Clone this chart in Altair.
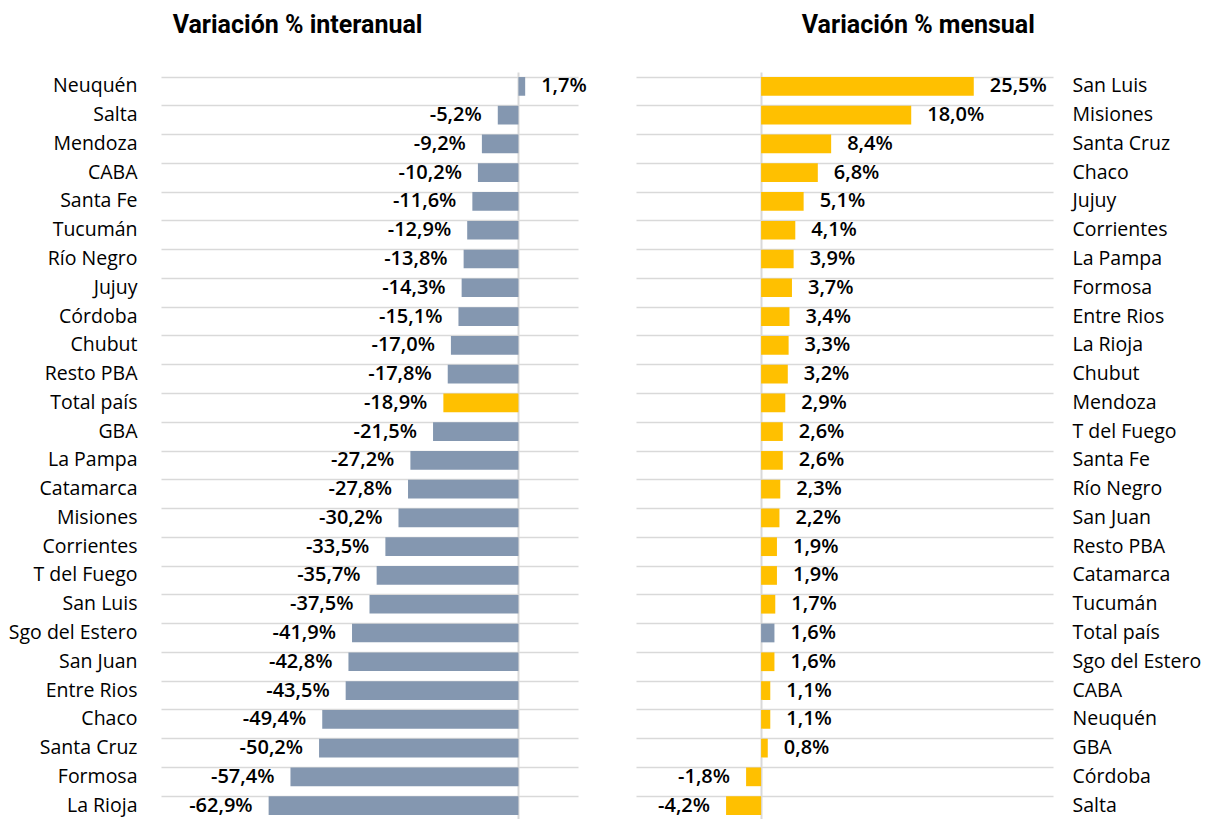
import altair as alt
import pandas as pd

inter_regions = ["Neuquén", "Salta", "Mendoza", "CABA", "Santa Fe", "Tucumán", "Río Negro",
                 "Jujuy", "Córdoba", "Chubut", "Resto PBA", "Total país", "GBA", "La Pampa",
                 "Catamarca", "Misiones", "Corrientes", "T del Fuego", "San Luis",
                 "Sgo del Estero", "San Juan", "Entre Rios", "Chaco", "Santa Cruz",
                 "Formosa", "La Rioja"]
inter_values = [1.7, -5.2, -9.2, -10.2, -11.6, -12.9, -13.8, -14.3, -15.1, -17.0, -17.8,
                -18.9, -21.5, -27.2, -27.8, -30.2, -33.5, -35.7, -37.5, -41.9, -42.8,
                -43.5, -49.4, -50.2, -57.4, -62.9]

mens_regions = ["San Luis", "Misiones", "Santa Cruz", "Chaco", "Jujuy", "Corrientes",
                "La Pampa", "Formosa", "Entre Rios", "La Rioja", "Chubut", "Mendoza",
                "T del Fuego", "Santa Fe", "Río Negro", "San Juan", "Resto PBA",
                "Catamarca", "Tucumán", "Total país", "Sgo del Estero", "CABA",
                "Neuquén", "GBA", "Córdoba", "Salta"]
mens_values = [25.5, 18.0, 8.4, 6.8, 5.1, 4.1, 3.9, 3.7, 3.4, 3.3, 3.2, 2.9, 2.6, 2.6,
               2.3, 2.2, 1.9, 1.9, 1.7, 1.6, 1.6, 1.1, 1.1, 0.8, -1.8, -4.2]

BLUE = "#8497B0"
YELLOW = "#FFC000"
GRID = "#D9D9D9"
FONT = "Open Sans"


def fmt(v):
    return f"{v:.1f}".replace(".", ",") + "%"


def panel(regions, values, domain, title, highlight, other, y_orient, label_pad):
    df = pd.DataFrame({"region": regions, "value": values,
                       "label": [fmt(v) for v in values]})
    y = alt.Y("region:N", sort=regions,
              scale=alt.Scale(paddingInner=0.35, paddingOuter=0.175),
              axis=alt.Axis(title=None, orient=y_orient, ticks=False, domain=False,
                            labelPadding=label_pad, labelFontSize=19.5, labelFont=FONT,
                            labelColor="#000000", grid=True, bandPosition=0,
                            gridColor=GRID, gridWidth=1.5))
    x = alt.X("value:Q", scale=alt.Scale(domain=domain, nice=False, zero=False),
              axis=alt.Axis(title=None, values=[0], labels=False, ticks=False,
                            grid=True, gridColor=GRID, gridWidth=2,
                            domain=True, domainColor=GRID, domainWidth=1.5))
    base = alt.Chart(df)
    bars = base.mark_bar().encode(
        x=x, y=y,
        color=alt.condition(alt.datum.region == "Total país",
                            alt.value(highlight), alt.value(other)),
    )
    pos = base.transform_filter(alt.datum.value >= 0).mark_text(
        align="left", dx=16, fontSize=20, fontWeight=600, font=FONT, color="#000000"
    ).encode(x="value:Q", y=alt.Y("region:N", sort=regions), text="label:N")
    neg = base.transform_filter(alt.datum.value < 0).mark_text(
        align="right", dx=-16, fontSize=20, fontWeight=600, font=FONT, color="#000000"
    ).encode(x="value:Q", y=alt.Y("region:N", sort=regions), text="label:N")
    return alt.layer(bars, pos, neg).properties(
        width=417, height=748,
        title=alt.TitleParams(title, fontSize=25, fontWeight="bold", font="Roboto",
                              anchor="middle", frame="bounds", offset=34,
                              color="#000000"),
    )


left = panel(inter_regions, inter_values, [-90, 15], "Variación % interanual",
             YELLOW, BLUE, "left", 24)
right = panel(mens_regions, mens_values, [-15, 35], "Variación % mensual",
              BLUE, YELLOW, "right", 19)

chart = alt.hconcat(left, right).properties(
    padding={"left": 0, "top": 5, "right": 0, "bottom": 0}
).configure_view(stroke=None).configure_concat(spacing=49)

chart.save("out.html", embed_options={"renderer": "svg", "actions": False})
